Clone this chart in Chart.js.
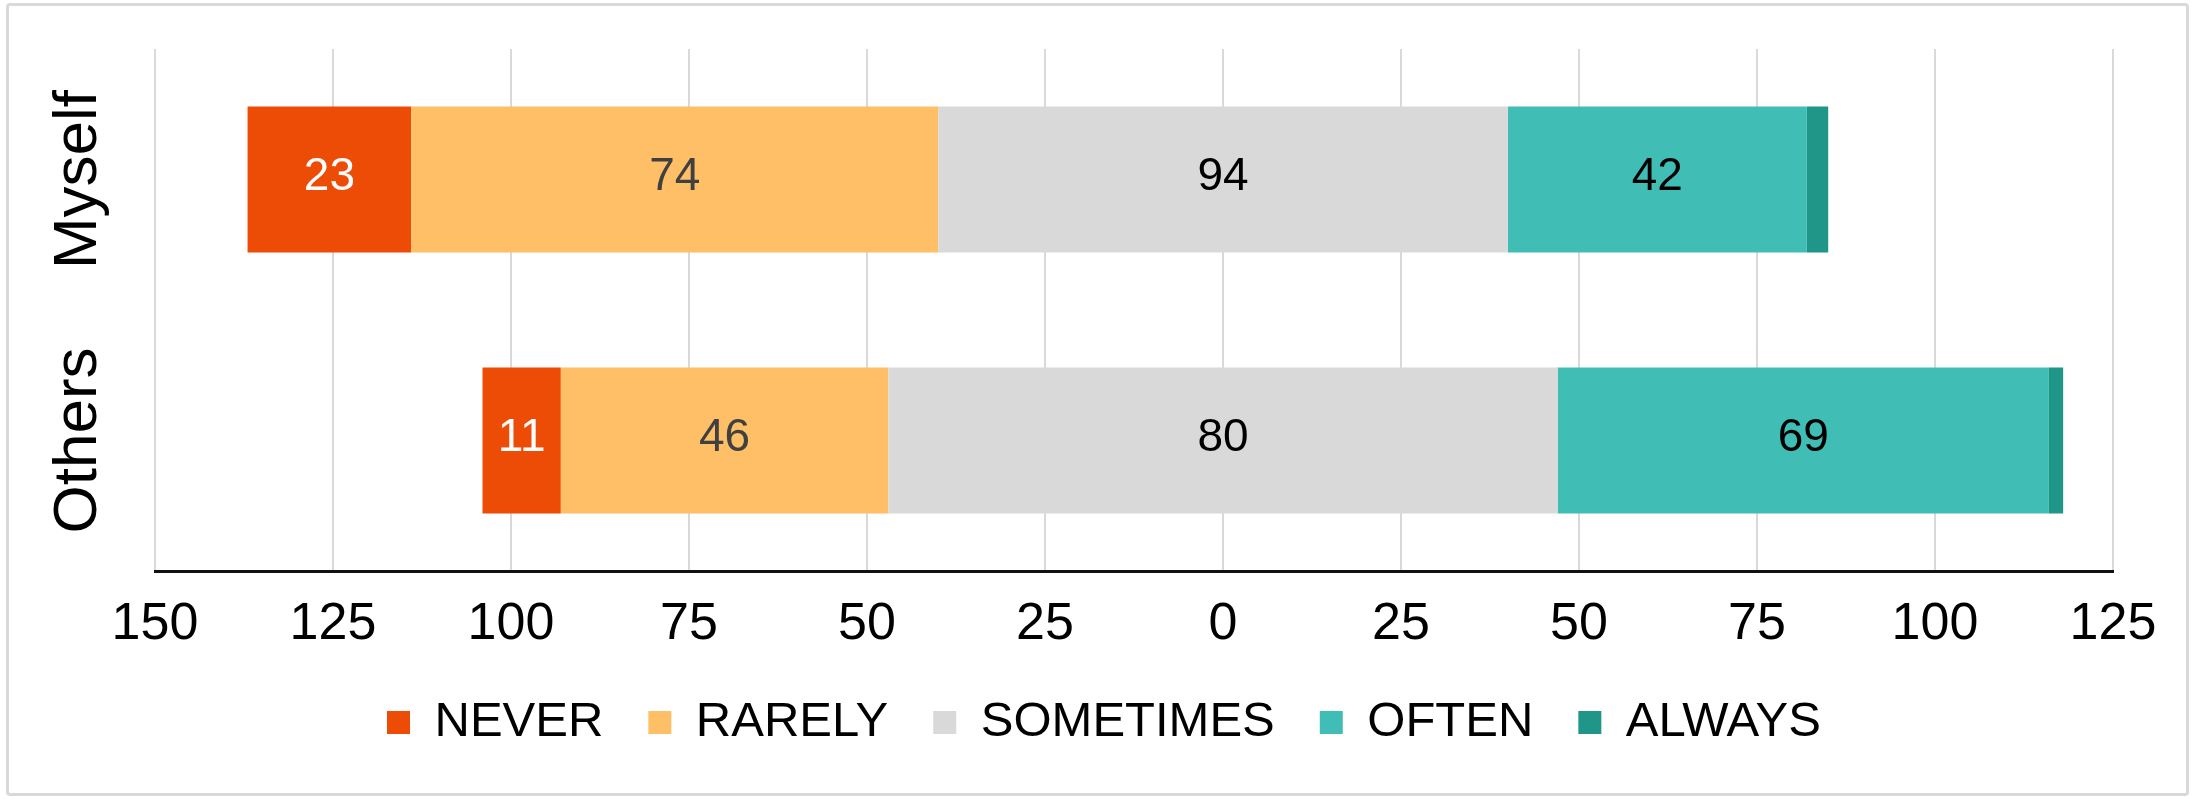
<!DOCTYPE html>
<html>
<head>
<meta charset="utf-8">
<script src="https://cdn.jsdelivr.net/npm/chart.js@4"></script>
<style>
  body { margin: 0; background: #fff; }
  .wrap { position: relative; width: 2195px; height: 802px; }
  .frame {
    position: absolute; left: 6px; top: 3px; width: 2183px; height: 793px;
    box-sizing: border-box; border: 3px solid #d9d9d9; border-radius: 4px;
  }
  canvas { position: absolute; left: 0; top: 0; }
</style>
</head>
<body>
<div class="wrap">
  <div class="frame"></div>
  <canvas id="chart" width="2195" height="802"></canvas>
</div>
<script>
// données
const groups = ['Myself', 'Others'];
const never = [23, 11];
const rarely = [74, 46];
const sometimes = [80, 94];        // largeur totale des barres grises
const sometimesLabels = [94, 80];  // valeurs affichées sur les barres grises
const often = [42, 69];
const always = [3, 2];
const xTicks = [-150, -125, -100, -75, -50, -25, 0, 25, 50, 75, 100, 125];

const colors = {
  NEVER: '#EC4C06',
  RARELY: '#FEBF67',
  SOMETIMES: '#D9D9D9',
  OFTEN: '#40BDB4',
  ALWAYS: '#1F9688'
};
const legendOrder = ['NEVER', 'RARELY', 'SOMETIMES', 'OFTEN', 'ALWAYS'];
const FONT = '"Liberation Sans", Arial, sans-serif';

Chart.defaults.font.family = FONT;
Chart.defaults.color = '#000';

// étiquettes au centre des barres
const barLabels = {
  id: 'barLabels',
  afterDatasetsDraw(chart) {
    const ctx = chart.ctx;
    ctx.save();
    ctx.font = '46px ' + FONT;
    ctx.textAlign = 'center';
    ctx.textBaseline = 'middle';
    chart.data.datasets.forEach((ds, i) => {
      if (!ds.valueLabels) return;
      const meta = chart.getDatasetMeta(i);
      const pair = ds.pairWith !== undefined ? chart.getDatasetMeta(ds.pairWith) : null;
      meta.data.forEach((bar, j) => {
        const other = pair ? pair.data[j].x : bar.base;
        ctx.fillStyle = ds.labelColor;
        ctx.fillText(ds.valueLabels[j], (bar.x + other) / 2, bar.y - 2);
      });
    });
    ctx.restore();
  }
};

// noms des catégories, verticaux, à gauche
const groupLabels = {
  id: 'groupLabels',
  afterDraw(chart) {
    const ctx = chart.ctx;
    const y = chart.scales.y;
    ctx.save();
    ctx.font = '62px ' + FONT;
    ctx.fillStyle = '#000';
    ctx.textAlign = 'center';
    ctx.textBaseline = 'middle';
    chart.data.labels.forEach((lab, i) => {
      ctx.save();
      ctx.translate(79, y.getPixelForTick(i));
      ctx.rotate(-Math.PI / 2);
      ctx.fillText(lab, 0, 0);
      ctx.restore();
    });
    ctx.restore();
  }
};

// les valeurs négatives s'empilent depuis 0 vers la gauche
const datasets = [
  { label: 'SOMETIMES', data: sometimes.map(v => -v / 2), backgroundColor: colors.SOMETIMES,
    valueLabels: sometimesLabels, labelColor: '#000', pairWith: 3 },
  { label: 'RARELY', data: rarely.map(v => -v), backgroundColor: colors.RARELY,
    valueLabels: rarely, labelColor: '#404040' },
  { label: 'NEVER', data: never.map(v => -v), backgroundColor: colors.NEVER,
    valueLabels: never, labelColor: '#fff' },
  { label: 'SOMETIMES (right)', data: sometimes.map(v => v / 2), backgroundColor: colors.SOMETIMES },
  { label: 'OFTEN', data: often, backgroundColor: colors.OFTEN,
    valueLabels: often, labelColor: '#000' },
  { label: 'ALWAYS', data: always, backgroundColor: colors.ALWAYS }
];

const ctx = document.getElementById('chart').getContext('2d');
const chart = new Chart(ctx, {
  type: 'bar',
  data: { labels: groups, datasets: datasets },
  plugins: [barLabels, groupLabels],
  options: {
    responsive: false,
    animation: false,
    indexAxis: 'y',
    datasets: { bar: { categoryPercentage: 0.8, barPercentage: 0.7, borderWidth: 0 } },
    layout: { padding: { left: 95, right: 82, top: 49, bottom: 45 } },
    plugins: {
      tooltip: { enabled: false },
      legend: {
        position: 'bottom',
        labels: {
          boxWidth: 23,
          boxHeight: 23,
          padding: 45,
          color: '#000',
          font: { size: 49 },
          generateLabels: (c) => legendOrder.map(name => {
            const i = c.data.datasets.findIndex(d => d.label === name);
            return { text: name, fillStyle: colors[name], strokeStyle: colors[name],
                     lineWidth: 0, hidden: false, datasetIndex: i, fontColor: '#000' };
          })
        }
      }
    },
    scales: {
      x: {
        stacked: true,
        min: -150,
        max: 125,
        afterBuildTicks: (scale) => { scale.ticks = xTicks.map(v => ({ value: v })); },
        afterFit: (scale) => { scale.height = 82; },
        grid: { color: '#d9d9d9', lineWidth: 2, drawTicks: false },
        border: { display: true, color: '#111', width: 3 },
        ticks: {
          padding: 22,
          color: '#000',
          font: { size: 52 },
          callback: (v) => Math.abs(v)
        }
      },
      y: {
        stacked: true,
        afterFit: (scale) => { scale.width = 60; },
        grid: { display: false },
        border: { display: false },
        ticks: { display: false }
      }
    }
  }
});
</script>
</body>
</html>
